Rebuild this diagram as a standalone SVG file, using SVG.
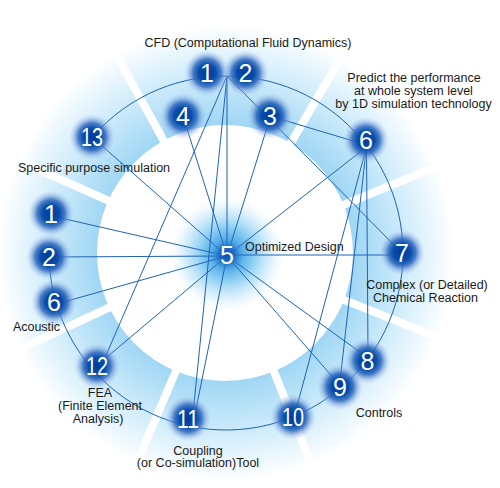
<svg xmlns="http://www.w3.org/2000/svg" width="500" height="488" viewBox="0 0 500 488">
<defs>
<radialGradient id="ringGrad" gradientUnits="userSpaceOnUse" cx="226" cy="253" r="240">
<stop offset="0.53" stop-color="#9fd6f4"/>
<stop offset="0.62" stop-color="#b2dff7"/>
<stop offset="0.76" stop-color="#d2edfb"/>
<stop offset="0.89" stop-color="#f0f9fe"/>
<stop offset="0.95" stop-color="#ffffff"/>
</radialGradient>
<radialGradient id="haloGrad">
<stop offset="0" stop-color="#2a7fd0"/>
<stop offset="0.2" stop-color="#4aa6e4"/>
<stop offset="0.45" stop-color="#8ccff3"/>
<stop offset="0.75" stop-color="#c9e9fa" stop-opacity="0.6"/>
<stop offset="1" stop-color="#ffffff" stop-opacity="0"/>
</radialGradient>
<radialGradient id="nodeGrad">
<stop offset="0" stop-color="#003a98"/>
<stop offset="0.38" stop-color="#084dab"/>
<stop offset="0.6" stop-color="#2d68bd" stop-opacity="0.85"/>
<stop offset="0.8" stop-color="#6f97d6" stop-opacity="0.4"/>
<stop offset="1" stop-color="#a9c6ee" stop-opacity="0"/>
</radialGradient>
<radialGradient id="coreGrad">
<stop offset="0" stop-color="#0a4fae"/>
<stop offset="0.5" stop-color="#1f6cc4" stop-opacity="0.8"/>
<stop offset="1" stop-color="#4aa6e4" stop-opacity="0"/>
</radialGradient>
<style>
.conn line, .conn path { stroke: #1f62b8; stroke-width: 1; fill: none; }
.sep line { stroke: #ffffff; stroke-width: 8; }
.glow { fill: url(#nodeGrad); }
.num { font-family: "Liberation Sans", Arial, sans-serif; font-size: 25px; fill: #ffffff; text-anchor: middle; }
.lbl { font-family: "Liberation Sans", Arial, sans-serif; font-size: 12.5px; fill: #1a1a1a; text-anchor: middle; }
</style>
</defs>

<g id="background">
<rect x="0" y="0" width="500" height="488" fill="#ffffff"/>
<circle cx="226" cy="253" r="240" fill="url(#ringGrad)"/>
<g class="sep">
<line x1="348" y1="253" x2="480" y2="253" transform="rotate(-119 226 253)"/>
<line x1="348" y1="253" x2="480" y2="253" transform="rotate(-59.5 226 253)"/>
<line x1="348" y1="253" x2="480" y2="253" transform="rotate(-22.3 226 253)"/>
<line x1="348" y1="253" x2="480" y2="253" transform="rotate(21.7 226 253)"/>
<line x1="348" y1="253" x2="480" y2="253" transform="rotate(68 226 253)"/>
<line x1="348" y1="253" x2="480" y2="253" transform="rotate(113 226 253)"/>
<line x1="348" y1="253" x2="480" y2="253" transform="rotate(155 226 253)"/>
<line x1="348" y1="253" x2="480" y2="253" transform="rotate(-156 226 253)"/>
</g>
<circle cx="225" cy="253" r="128" fill="#ffffff"/>
<circle cx="227" cy="254" r="60" fill="url(#haloGrad)"/>
</g>

<g id="connectors" class="conn">
<path d="M 92.4 136.9 A 177 177 0 1 1 49.1 259.2"/>
<line x1="227" y1="76" x2="227" y2="256"/>
<line x1="227" y1="76" x2="400" y2="251"/>
<line x1="227" y1="76" x2="104" y2="360"/>
<line x1="227" y1="76" x2="193" y2="414"/>
<line x1="183" y1="116" x2="227" y2="256"/>
<line x1="270" y1="118" x2="227" y2="256"/>
<line x1="270" y1="116" x2="366.5" y2="145"/>
<line x1="92" y1="137" x2="227" y2="256"/>
<line x1="52" y1="216" x2="227" y2="256"/>
<line x1="49" y1="257" x2="227" y2="256"/>
<line x1="60" y1="303" x2="227" y2="256"/>
<line x1="101" y1="362" x2="227" y2="256"/>
<line x1="195" y1="414" x2="227" y2="256"/>
<line x1="366.5" y1="147" x2="227" y2="256"/>
<line x1="366.5" y1="147" x2="296" y2="410"/>
<line x1="366.5" y1="147" x2="340" y2="381"/>
<line x1="366.5" y1="147" x2="368" y2="355"/>
<line x1="227" y1="255" x2="400" y2="255"/>
<line x1="227" y1="256" x2="364" y2="355"/>
<line x1="227" y1="256" x2="337" y2="382"/>
</g>

<g id="node-cfd-1"><circle class="glow" cx="207" cy="73" r="23"/><text class="num" x="207" y="82">1</text></g>
<g id="node-cfd-2"><circle class="glow" cx="245.5" cy="73" r="23"/><text class="num" x="245.5" y="82">2</text></g>
<g id="node-4"><circle class="glow" cx="183" cy="116" r="23"/><text class="num" x="183" y="125">4</text></g>
<g id="node-3"><circle class="glow" cx="270" cy="116" r="23"/><text class="num" x="270" y="125">3</text></g>
<g id="node-13"><circle class="glow" cx="92" cy="137" r="23"/><text class="num" x="92" y="146" textLength="22" lengthAdjust="spacingAndGlyphs">13</text></g>
<g id="node-1d-6"><circle class="glow" cx="366" cy="140" r="23"/><text class="num" x="366" y="149">6</text></g>
<g id="node-sp-1"><circle class="glow" cx="51" cy="213.5" r="23"/><text class="num" x="51" y="222.5">1</text></g>
<g id="node-sp-2"><circle class="glow" cx="49" cy="257" r="23"/><text class="num" x="49" y="266">2</text></g>
<g id="node-ac-6"><circle class="glow" cx="54" cy="302" r="23"/><text class="num" x="54" y="311">6</text></g>
<g id="node-5"><circle cx="227" cy="255" r="17" fill="url(#coreGrad)"/><text class="num" x="227" y="264">5</text></g>
<g id="node-7"><circle class="glow" cx="402" cy="252.5" r="23"/><text class="num" x="402" y="261.5">7</text></g>
<g id="node-12"><circle class="glow" cx="97" cy="366" r="23"/><text class="num" x="97" y="375" textLength="22" lengthAdjust="spacingAndGlyphs">12</text></g>
<g id="node-8"><circle class="glow" cx="367.5" cy="361" r="23"/><text class="num" x="367.5" y="370">8</text></g>
<g id="node-9"><circle class="glow" cx="340" cy="387" r="23"/><text class="num" x="340" y="396">9</text></g>
<g id="node-10"><circle class="glow" cx="293" cy="417" r="23"/><text class="num" x="293" y="426" textLength="22" lengthAdjust="spacingAndGlyphs">10</text></g>
<g id="node-11"><circle class="glow" cx="188" cy="418.5" r="23"/><text class="num" x="188" y="427.5" textLength="22" lengthAdjust="spacingAndGlyphs">11</text></g>

<g id="labels">
<text class="lbl" x="248" y="46.5">CFD (Computational Fluid Dynamics)</text>
<text class="lbl" x="414" y="82">Predict the performance</text>
<text class="lbl" x="413.5" y="95">at whole system level</text>
<text class="lbl" x="413.5" y="108">by 1D simulation technology</text>
<text class="lbl" x="94" y="172">Specific purpose simulation</text>
<text class="lbl" x="245" y="251" style="text-anchor:start">Optimized Design</text>
<text class="lbl" x="36.5" y="331">Acoustic</text>
<text class="lbl" x="427" y="289">Complex (or Detailed)</text>
<text class="lbl" x="425.5" y="302">Chemical Reaction</text>
<text class="lbl" x="379" y="416.5">Controls</text>
<text class="lbl" x="100" y="397">FEA</text>
<text class="lbl" x="100" y="410">(Finite Element</text>
<text class="lbl" x="98" y="423">Analysis)</text>
<text class="lbl" x="198" y="454.5">Coupling</text>
<text class="lbl" x="198" y="467">(or Co-simulation)Tool</text>
</g>
</svg>
